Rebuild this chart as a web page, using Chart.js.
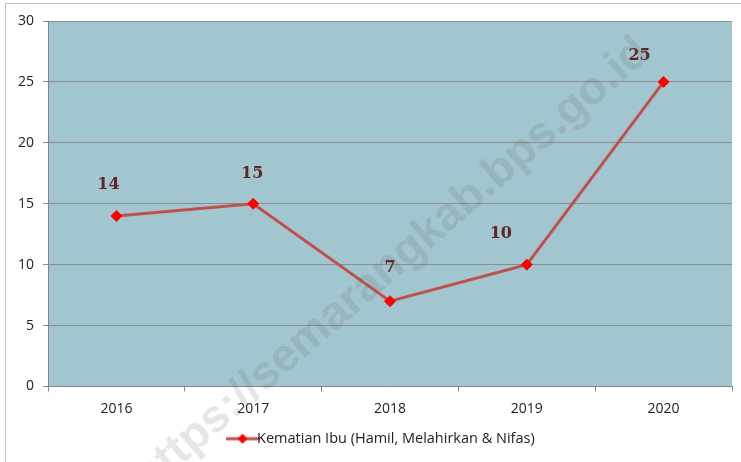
<!DOCTYPE html>
<html>
<head>
<meta charset="utf-8">
<script src="https://cdn.jsdelivr.net/npm/chart.js@4/dist/chart.umd.min.js"></script>
<style>
  html, body { margin: 0; padding: 0; background: #fff; }
  #wrap { width: 741px; height: 462px; position: relative; }
</style>
</head>
<body>
<div id="wrap"><canvas id="chartKematian" width="741" height="462"></canvas></div>
<script>
// data
const tahun = ['2016', '2017', '2018', '2019', '2020'];
const kematianIbu = [14, 15, 7, 10, 25];
const yTicks = [0, 5, 10, 15, 20, 25, 30];
const seriesLabel = 'Kematian Ibu (Hamil, Melahirkan & Nifas)';

// label offsets (dx, dy) relative to each point
const labelOffset = [[-8, -31], [-1, -30], [0, -33], [-26, -31], [-24, -26]];

// legend symbol: line with diamond
function legendSymbol() {
  const c = document.createElement('canvas');
  c.width = 34; c.height = 12;
  const g = c.getContext('2d');
  g.strokeStyle = '#C0504D';
  g.lineWidth = 3;
  g.beginPath(); g.moveTo(0, 6); g.lineTo(34, 6); g.stroke();
  g.fillStyle = '#FF0000';
  g.beginPath(); g.moveTo(17, 1); g.lineTo(22, 6); g.lineTo(17, 11); g.lineTo(12, 6); g.closePath(); g.fill();
  return c;
}

const plotBg = {
  id: 'plotBg',
  afterLayout(chart) {
    // legend is centred under the plot area, not the canvas
    chart.legend.left += 19;
    chart.legend.right += 19;
  },
  beforeDraw(chart) {
    const { ctx, chartArea: a } = chart;
    ctx.save();
    ctx.fillStyle = '#A1C6CF';
    ctx.fillRect(a.left, a.top, a.right - a.left, a.bottom - a.top);
    // outer frame
    ctx.strokeStyle = '#BFBFBF';
    ctx.lineWidth = 1;
    ctx.beginPath();
    ctx.moveTo(5.5, 470); ctx.lineTo(5.5, 3.5); ctx.lineTo(745, 3.5);
    ctx.stroke();
    ctx.restore();
  }
};

const dataLabels = {
  id: 'dataLabels',
  afterDatasetsDraw(chart) {
    const { ctx } = chart;
    const meta = chart.getDatasetMeta(0);
    ctx.save();
    ctx.font = 'bold 16px "DejaVu Serif"';
    ctx.fillStyle = '#632523';
    ctx.textAlign = 'center';
    ctx.textBaseline = 'middle';
    meta.data.forEach((pt, i) => {
      const [dx, dy] = labelOffset[i];
      ctx.fillText(String(kematianIbu[i]), pt.x + dx, pt.y + dy);
    });
    ctx.restore();
  }
};

const watermark = {
  id: 'watermark',
  afterDraw(chart) {
    const { ctx } = chart;
    ctx.save();
    ctx.translate(652, 56);
    ctx.rotate(-41 * Math.PI / 180);
    ctx.font = 'bold 46px "Liberation Sans"';
    ctx.fillStyle = 'rgba(90, 90, 90, 0.15)';
    ctx.textAlign = 'right';
    ctx.textBaseline = 'alphabetic';
    ctx.fillText('https://semarangkab.bps.go.id', 0, 0);
    ctx.restore();
  }
};

const ctx = document.getElementById('chartKematian').getContext('2d');
new Chart(ctx, {
  type: 'line',
  data: {
    labels: tahun,
    datasets: [{
      label: seriesLabel,
      data: kematianIbu,
      borderColor: '#C0504D',
      borderWidth: 3,
      pointStyle: 'rectRot',
      pointRadius: 5.5,
      pointBackgroundColor: '#FF0000',
      pointBorderColor: '#FF0000',
      pointBorderWidth: 1,
      tension: 0,
      fill: false
    }]
  },
  options: {
    responsive: false,
    animation: false,
    events: [],
    layout: { padding: { top: 21, right: 9, left: 0, bottom: 6 } },
    plugins: {
      tooltip: { enabled: false },
      legend: {
        position: 'bottom',
        labels: {
          usePointStyle: true,
          padding: 10,
          color: '#222',
          font: { family: '"Open Sans"', size: 14.5 },
          generateLabels(chart) {
            return [{
              text: seriesLabel,
              pointStyle: legendSymbol(),
              fillStyle: '#FF0000',
              strokeStyle: '#C0504D',
              lineWidth: 0,
              datasetIndex: 0,
              hidden: false,
              fontColor: '#222'
            }];
          }
        }
      }
    },
    scales: {
      x: {
        offset: true,
        grid: {
          offset: true,
          drawOnChartArea: false,
          tickLength: 5,
          color: '#868686'
        },
        border: { color: '#868686', width: 1 },
        ticks: {
          color: '#222',
          padding: 9,
          font: { family: '"Open Sans"', size: 14 }
        },
        afterFit(scale) { scale.height = 35; }
      },
      y: {
        min: 0,
        max: 30,
        afterBuildTicks(scale) { scale.ticks = yTicks.map(v => ({ value: v })); },
        grid: {
          color: '#8C8C8C',
          tickLength: 5,
          lineWidth: 1
        },
        border: { color: '#868686', width: 1 },
        ticks: {
          color: '#222',
          padding: 9,
          font: { family: '"Open Sans"', size: 14 }
        },
        afterFit(scale) { scale.width = 48; }
      }
    }
  },
  plugins: [plotBg, dataLabels, watermark]
});
</script>
</body>
</html>
